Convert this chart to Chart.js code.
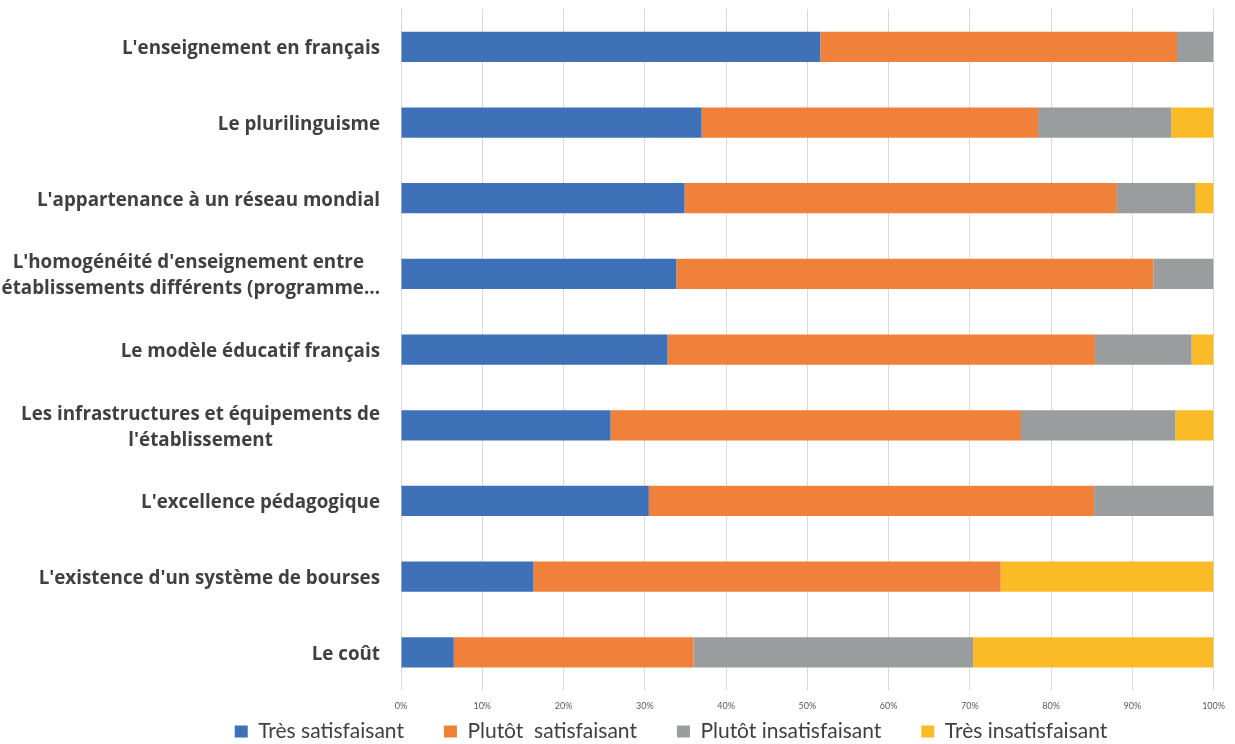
<!DOCTYPE html>
<html>
<head>
<meta charset="utf-8">
<script src="https://cdn.jsdelivr.net/npm/chart.js@4"></script>
<style>
  html, body { margin: 0; padding: 0; background: #fff; }
  #wrap { width: 1235px; height: 744px; }
</style>
</head>
<body>
<div id="wrap"><canvas id="satisfaction-chart" width="1235" height="744"></canvas></div>
<script>
// Categories (top to bottom), multi-line labels as arrays
const categories = [
  "L'enseignement en français",
  'Le plurilinguisme',
  "L'appartenance à un réseau mondial",
  ["L'homogénéité d'enseignement entre ", 'établissements différents (programme…'],
  'Le modèle éducatif français',
  ['Les infrastructures et équipements de', "l'établissement"],
  "L'excellence pédagogique",
  "L'existence d'un système de bourses",
  'Le coût'
]

const seriesNames = ['Très satisfaisant', 'Plutôt  satisfaisant', 'Plutôt insatisfaisant', 'Très insatisfaisant']

// Shares in percent, one array per series, same order as categories
const tresSatisfait = [51.6, 37.0, 34.9, 33.9, 32.8, 25.8, 30.5, 16.3, 6.5]
const plutotSatisfait = [43.9, 41.4, 53.2, 58.7, 52.6, 50.5, 54.8, 57.5, 29.5]
const plutotInsatisfait = [4.5, 16.4, 9.7, 7.4, 11.9, 19.0, 14.7, 0, 34.4]
const tresInsatisfait = [0, 5.2, 2.2, 0, 2.7, 4.7, 0, 26.2, 29.6]

const xTicks = [0, 10, 20, 30, 40, 50, 60, 70, 80, 90, 100]

const colors = ['#3E71B8', '#F0813A', '#9A9D9D', '#FBBB27']
const values = [tresSatisfait, plutotSatisfait, plutotInsatisfait, tresInsatisfait]

const labelFont = 'bold 18.8px "Open Sans"'
const labelColor = '#404040'
const legendGap = 40

// Draw the category labels: block right-aligned, lines centred within the block
const categoryLabels = {
  id: 'categoryLabels',
  afterDraw(chart) {
    const ctx = chart.ctx
    const yScale = chart.scales.y
    const rightEdge = chart.chartArea.left - 21
    const lineHeight = 26
    ctx.save()
    ctx.font = labelFont
    ctx.fillStyle = labelColor
    ctx.textAlign = 'center'
    ctx.textBaseline = 'middle'
    categories.forEach((label, i) => {
      const lines = Array.isArray(label) ? label : [label]
      const maxW = Math.max(...lines.map(l => ctx.measureText(l).width))
      const cx = rightEdge - maxW / 2
      const y = yScale.getPixelForTick(i) + 2
      const startY = y - (lines.length - 1) * lineHeight / 2
      lines.forEach((line, j) => {
        ctx.fillText(line, cx, startY + j * lineHeight)
      })
    })
    ctx.restore()
  }
}

// Keep the wide horizontal gaps between legend items without the tall legend box
const compactLegend = {
  id: 'compactLegend',
  beforeInit(chart) {
    const legend = chart.legend
    const fit = legend.fit
    legend.fit = function () {
      fit.call(this)
      this.height = 23
    }
    const draw = legend.draw
    legend.draw = function (area) {
      const top = this.top
      this.top = top - legendGap
      draw.call(this, area)
      this.top = top
    }
  }
}

const ctx = document.getElementById('satisfaction-chart').getContext('2d')
new Chart(ctx, {
  type: 'bar',
  data: {
    labels: categories,
    datasets: seriesNames.map((name, k) => ({
      label: name,
      data: values[k],
      backgroundColor: colors[k],
      borderWidth: 0,
      barPercentage: 0.8,
      categoryPercentage: 0.5
    }))
  },
  options: {
    indexAxis: 'y',
    responsive: false,
    animation: false,
    layout: { padding: { top: 9, left: 127, right: 20, bottom: 0 } },
    scales: {
      x: {
        stacked: true,
        min: 0,
        max: 100,
        afterBuildTicks(scale) {
          scale.ticks = xTicks.map(v => ({ value: v }))
        },
        border: { display: false },
        grid: { color: '#D9D9D9', lineWidth: 1, drawTicks: false },
        ticks: {
          padding: 10,
          color: '#595959',
          font: { family: 'Lato', size: 9 },
          callback: v => v + '%'
        }
      },
      y: {
        stacked: true,
        border: { display: false },
        grid: { display: false, drawTicks: false },
        ticks: { display: false },
        afterFit(scale) {
          scale.width = 274
        }
      }
    },
    plugins: {
      legend: {
        position: 'bottom',
        labels: {
          boxWidth: 13,
          boxHeight: 12,
          padding: legendGap,
          color: '#404040',
          font: { family: 'Lato', size: 21 }
        }
      },
      tooltip: { enabled: false }
    }
  },
  plugins: [categoryLabels, compactLegend]
})
</script>
</body>
</html>
